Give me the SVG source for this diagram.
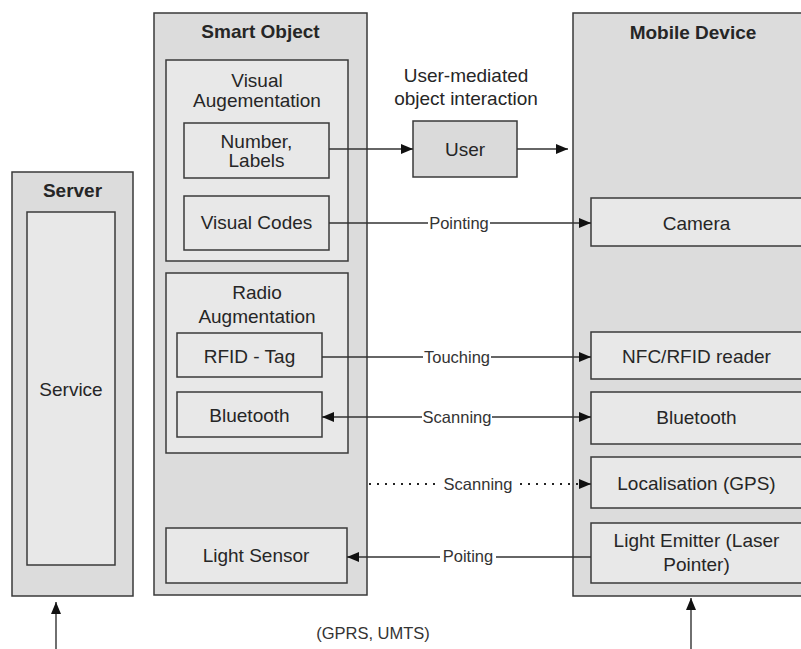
<svg xmlns="http://www.w3.org/2000/svg" width="801" height="649" viewBox="0 0 801 649">
<defs>
<style>
.outer{fill:#dcdcdc;stroke:#3a3a3a;stroke-width:1.5}
.inner{fill:#e8e8e8;stroke:#3a3a3a;stroke-width:1.5}
.user{fill:#dadada;stroke:#3a3a3a;stroke-width:1.5}
text{font-family:"Liberation Sans",Arial,sans-serif;font-size:19px;fill:#262626;text-anchor:middle}
.title{font-weight:bold}
.lbl{font-size:16.5px;fill:#333}
.conn{stroke:#333;stroke-width:1.4;fill:none}
.dot{stroke:#222;stroke-width:2;fill:none;stroke-dasharray:2 6}
.bg{fill:#fff}
</style>
<marker id="ah" viewBox="0 0 12 10" refX="12" refY="5" markerWidth="12" markerHeight="10" markerUnits="userSpaceOnUse" orient="auto-start-reverse">
<path d="M0,0 L12,5 L0,10 Z" fill="#111"/>
</marker>
</defs>

<g id="server">
<rect class="outer" x="12" y="172" width="121" height="424"/>
<text class="title" x="72.5" y="197">Server</text>
</g>
<g id="service">
<rect class="inner" x="27" y="212" width="88" height="353"/>
<text x="71" y="396">Service</text>
</g>

<g id="smart-object">
<rect class="outer" x="154" y="13" width="213" height="582"/>
<text class="title" x="260.5" y="38">Smart Object</text>
</g>
<g id="visual-augmentation">
<rect class="inner" x="166" y="60" width="182" height="201"/>
<text x="257" y="87">Visual</text>
<text x="257" y="107">Augementation</text>
</g>
<g id="number-labels">
<rect class="inner" x="184" y="123" width="145" height="55"/>
<text x="256.5" y="148">Number,</text>
<text x="256.5" y="167">Labels</text>
</g>
<g id="visual-codes">
<rect class="inner" x="184" y="196" width="145" height="54"/>
<text x="256.5" y="229">Visual Codes</text>
</g>
<g id="radio-augmentation">
<rect class="inner" x="166" y="273" width="182" height="180"/>
<text x="257" y="299">Radio</text>
<text x="257" y="323">Augmentation</text>
</g>
<g id="rfid-tag">
<rect class="inner" x="177" y="333" width="145" height="44"/>
<text x="249.5" y="363">RFID - Tag</text>
</g>
<g id="bluetooth-so">
<rect class="inner" x="177" y="392" width="145" height="45"/>
<text x="249.5" y="422">Bluetooth</text>
</g>
<g id="light-sensor">
<rect class="inner" x="166" y="528" width="181" height="55"/>
<text x="256" y="562">Light Sensor</text>
</g>

<g id="user-note">
<text x="466" y="82">User-mediated</text>
<text x="466" y="105">object interaction</text>
</g>
<g id="user">
<rect class="user" x="413" y="121" width="104" height="56"/>
<text x="465" y="156">User</text>
</g>

<g id="mobile-device">
<rect class="outer" x="573" y="13" width="250" height="583"/>
<text class="title" x="693" y="38.5">Mobile Device</text>
</g>
<g id="camera">
<rect class="inner" x="591" y="198" width="211" height="48"/>
<text x="696.5" y="229.5">Camera</text>
</g>
<g id="nfc-reader">
<rect class="inner" x="591" y="332" width="211" height="47"/>
<text x="696.5" y="363">NFC/RFID reader</text>
</g>
<g id="bluetooth-md">
<rect class="inner" x="591" y="392" width="211" height="52"/>
<text x="696.5" y="424">Bluetooth</text>
</g>
<g id="localisation">
<rect class="inner" x="591" y="457" width="211" height="51"/>
<text x="696.5" y="490">Localisation (GPS)</text>
</g>
<g id="light-emitter">
<rect class="inner" x="591" y="523" width="211" height="60"/>
<text x="696.5" y="547">Light Emitter (Laser</text>
<text x="696.5" y="570.5">Pointer)</text>
</g>

<g id="connectors">
<line class="conn" x1="329" y1="149" x2="413" y2="149" marker-end="url(#ah)"/>
<line class="conn" x1="517" y1="149" x2="568" y2="149" marker-end="url(#ah)"/>

<line class="conn" x1="329" y1="223" x2="591" y2="223" marker-end="url(#ah)"/>
<rect class="bg" x="428" y="212" width="62" height="20"/>
<text class="lbl" x="459" y="229">Pointing</text>

<line class="conn" x1="322" y1="357" x2="591" y2="357" marker-end="url(#ah)"/>
<rect class="bg" x="423" y="346" width="68" height="20"/>
<text class="lbl" x="457" y="363">Touching</text>

<line class="conn" x1="322" y1="417" x2="591" y2="417" marker-start="url(#ah)" marker-end="url(#ah)"/>
<rect class="bg" x="422" y="406" width="70" height="20"/>
<text class="lbl" x="457" y="423">Scanning</text>

<line class="dot" x1="369" y1="484" x2="440" y2="484"/>
<line class="dot" x1="520" y1="484" x2="584" y2="484"/>
<line class="conn" x1="583" y1="484" x2="591" y2="484" marker-end="url(#ah)"/>
<text class="lbl" x="478" y="490">Scanning</text>

<line class="conn" x1="591" y1="557" x2="347" y2="557" marker-end="url(#ah)"/>
<rect class="bg" x="440" y="546" width="56" height="20"/>
<text class="lbl" x="468" y="562">Poiting</text>

<line class="conn" x1="56" y1="649" x2="56" y2="602" marker-end="url(#ah)"/>
<line class="conn" x1="691" y1="649" x2="691" y2="598" marker-end="url(#ah)"/>
<text class="lbl" x="373" y="639">(GPRS, UMTS)</text>
</g>
</svg>
